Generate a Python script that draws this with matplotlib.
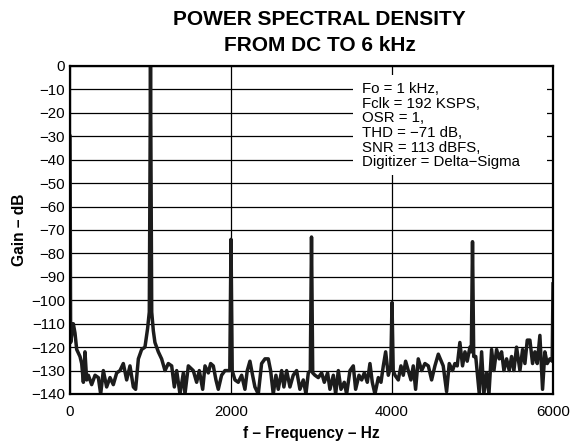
import matplotlib
matplotlib.use("Agg")
import matplotlib.pyplot as plt
from matplotlib.patches import Rectangle

plt.rcParams["font.family"] = ["Liberation Sans", "DejaVu Sans"]

# spectrum (Hz, dB)
freq = [
    0, 8, 41, 62, 83, 124, 145, 166, 186, 207, 228, 269, 311, 352, 381, 414,
    455, 497, 538, 580, 621, 662, 704, 745, 787, 815, 849, 890, 931, 964, 985,
    1000, 1015, 1035, 1055, 1097, 1138, 1180, 1221, 1263, 1296, 1325, 1366,
    1408, 1428, 1470, 1531, 1573, 1606, 1648, 1677, 1718, 1747, 1780, 1813,
    1842, 1883, 1925, 1954, 1985, 2000, 2015, 2049, 2090, 2132, 2173, 2202,
    2235, 2268, 2297, 2339, 2380, 2422, 2463, 2492, 2525, 2558, 2587, 2629,
    2657, 2691, 2732, 2773, 2815, 2856, 2898, 2931, 2960, 2985, 3000, 3015,
    3043, 3084, 3126, 3159, 3200, 3229, 3271, 3300, 3333, 3366, 3407, 3436,
    3478, 3519, 3548, 3590, 3623, 3656, 3693, 3726, 3755, 3788, 3830, 3863,
    3892, 3921, 3954, 3985, 4000, 4015, 4037, 4078, 4111, 4140, 4169, 4202,
    4235, 4264, 4293, 4326, 4368, 4409, 4451, 4492, 4533, 4575, 4600, 4636,
    4678, 4711, 4752, 4781, 4810, 4843, 4876, 4906, 4934, 4968, 4985, 5000,
    5015, 5040, 5084, 5113, 5141, 5175, 5204, 5237, 5266, 5299, 5332, 5361,
    5390, 5423, 5456, 5485, 5514, 5547, 5589, 5622, 5651, 5680, 5713, 5746,
    5775, 5804, 5837, 5870, 5899, 5928, 5961, 5990, 6000,
]
gain = [
    -30, -118, -110, -114, -121, -124, -127, -135, -122, -134, -132, -136,
    -132, -133, -140, -130, -137, -133, -136, -131, -130, -127, -134, -128,
    -137, -138, -125, -121, -120, -112, -105,
    0, -105, -113, -118, -122, -125, -130, -127, -128, -137, -130, -140,
    -131, -140, -128, -130, -135, -130, -138, -128, -131, -127, -128, -134,
    -138, -132, -130, -130, -130, -74, -130, -134, -135, -132, -138, -130,
    -126, -132, -137, -140, -127, -125, -125, -130, -140, -132, -138, -130,
    -137, -130, -137, -132, -130, -138, -134, -140, -131, -130, -73, -131,
    -132, -133, -131, -135, -131, -138, -132, -140, -130, -138, -135, -140,
    -130, -128, -138, -132, -134, -131, -135, -127, -135, -140, -133, -135,
    -128, -122, -132, -128, -101, -130, -132, -134, -128, -132, -126, -130,
    -134, -128, -138, -125, -130, -127, -128, -134, -128, -123, -125, -128,
    -139, -127, -130, -127, -128, -118, -128, -122, -126, -120, -122, -75,
    -124, -124, -140, -122, -140, -131, -140, -121, -130, -121, -125, -122,
    -130, -125, -130, -124, -130, -120, -130, -121, -127, -117, -117, -127,
    -122, -127, -115, -138, -122, -127, -125, -126, -93,
]

x_ticks = [0, 2000, 4000, 6000]
y_ticks = list(range(-140, 1, 10))

notes = [
    "Fo = 1 kHz,",
    "Fclk = 192 KSPS,",
    "OSR = 1,",
    "THD = \u221271 dB,",
    "SNR = 113 dBFS,",
    "Digitizer = Delta\u2212Sigma",
]

fig = plt.figure(figsize=(5.71, 4.42), dpi=100)
ax = fig.add_axes([0.1226, 0.1086, 0.8459, 0.7421])

ax.plot(freq, gain, color="#1c1c1c", linewidth=2.5, zorder=2)

ax.set_xlim(0, 6000)
ax.set_ylim(-140, 0)
ax.set_xticks(x_ticks)
ax.set_yticks(y_ticks)
ax.tick_params(length=0, labelsize=10.8)
ax.tick_params(axis="x", pad=8)
ax.tick_params(axis="y", pad=3.5)
ax.set_axisbelow(True)
ax.grid(True, color="black", linewidth=0.9)
for spine in ax.spines.values():
    spine.set_linewidth(1.6)
    spine.set_zorder(4)

# white legend box over the grid
ax.add_patch(Rectangle((0.586, 0.668), 0.402, 0.305, transform=ax.transAxes,
                       facecolor="white", edgecolor="none", zorder=1))
ax.text(0.605, 0.95, "\n".join(notes), transform=ax.transAxes,
        ha="left", va="top", fontsize=10.8, linespacing=1.05, zorder=3)

ax.set_xlabel("f \u2013 Frequency \u2013 Hz", fontsize=11.2, fontweight="bold", labelpad=5)
ax.set_ylabel("Gain \u2013 dB", fontsize=11.2, fontweight="bold", labelpad=3)

fig.text(0.560, 0.955, "POWER SPECTRAL DENSITY", ha="center", va="center",
         fontsize=15, fontweight="bold")
fig.text(0.560, 0.898, "FROM DC TO 6 kHz", ha="center", va="center",
         fontsize=15, fontweight="bold")

fig.savefig("out.png", dpi=100)
